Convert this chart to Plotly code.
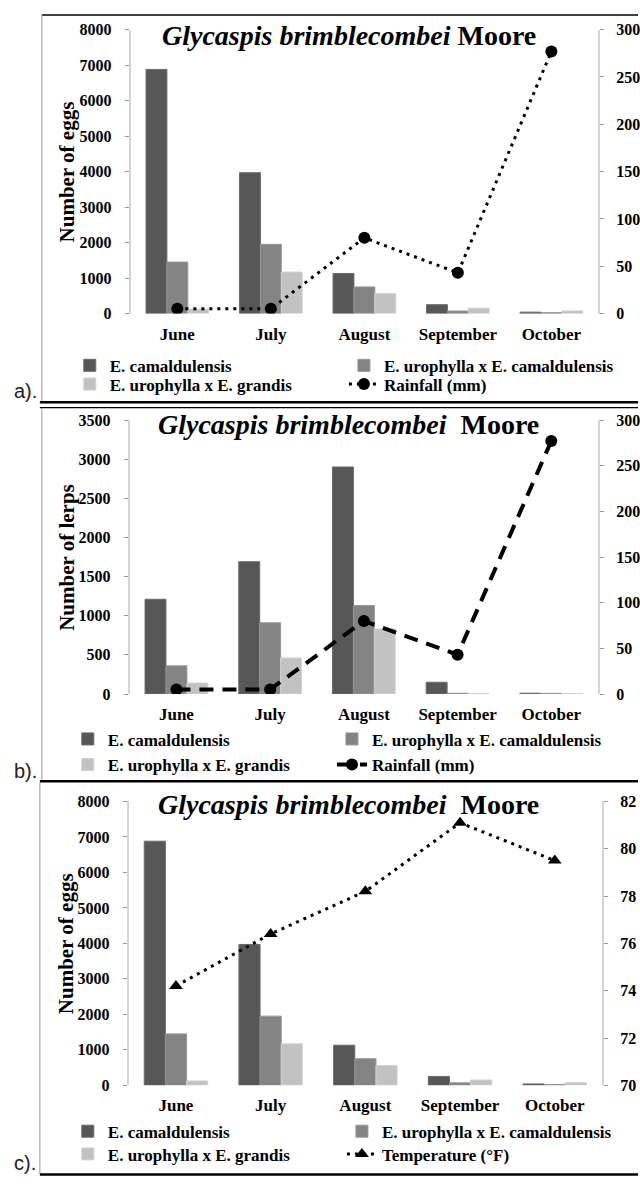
import plotly.graph_objects as go

# ---------------- data ----------------
months = ["June", "July", "August", "September", "October"]
series_names = ["E. camaldulensis", "E. urophylla x E. camaldulensis", "E. urophylla x E. grandis"]

eggs_cam = [6880, 3970, 1130, 250, 40]
eggs_uxc = [1450, 1950, 750, 70, 25]
eggs_uxg = [125, 1170, 560, 150, 75]

lerps_cam = [1210, 1690, 2900, 150, 10]
lerps_uxc = [360, 910, 1130, 10, 8]
lerps_uxg = [140, 460, 830, 8, 6]

rainfall = [5, 5, 80, 43, 277]
temperature = [74.2, 76.4, 78.2, 81.1, 79.5]

left_ticks_eggs = [0, 1000, 2000, 3000, 4000, 5000, 6000, 7000, 8000]
left_ticks_lerps = [0, 500, 1000, 1500, 2000, 2500, 3000, 3500]
right_ticks_rain = [0, 50, 100, 150, 200, 250, 300]
right_ticks_temp = [70, 72, 74, 76, 78, 80, 82]

# ---------------- style ----------------
W, H = 640, 1186
bar_colors = ["#575757", "#848484", "#c2c2c2"]
bar_edges = ["#6a6a6a", "#959595", "#d2d2d2"]
SERIF = "Liberation Serif"
AX_GRAY = "#d4d4d4"


def px(x):
    return x / W


def py(y):
    return 1 - y / H


panels = [
    dict(x0=131, x1=600, y0=22, y1=310, left=(eggs_cam, eggs_uxc, eggs_uxg),
         lrange=[0, 8000], lticks=left_ticks_eggs, rvals=rainfall, rrange=[0, 300],
         rticks=right_ticks_rain, rname="Rainfall (mm)", dash="3px,5px", lw=3,
         symbol="circle", ytitle="Number of eggs",
         title="<i>Glycaspis brimblecombei</i> Moore", ty=28,
         leg_rows=(363, 382), leg_cols=(70, 345), tag="a).", tagy=389),
    dict(x0=130, x1=600, y0=418, y1=696, left=(lerps_cam, lerps_uxc, lerps_uxg),
         lrange=[0, 3500], lticks=left_ticks_lerps, rvals=rainfall, rrange=[0, 300],
         rticks=right_ticks_rain, rname="Rainfall (mm)", dash="14px,9px", lw=4,
         symbol="circle", ytitle="Number of lerps",
         title="<i>Glycaspis brimblecombei</i>  Moore", ty=423,
         leg_rows=(742, 768), leg_cols=(68, 333), tag="b).", tagy=774),
    dict(x0=129, x1=604, y0=805, y1=1093, left=(eggs_cam, eggs_uxc, eggs_uxg),
         lrange=[0, 8000], lticks=left_ticks_eggs, rvals=temperature, rrange=[70, 82],
         rticks=right_ticks_temp, rname="Temperature (°F)", dash="3px,5px", lw=3,
         symbol="triangle-up", ytitle="Number of eggs",
         title="<i>Glycaspis brimblecombei</i>  Moore", ty=808,
         leg_rows=(1140, 1163), leg_cols=(68, 343), tag="c).", tagy=1172),
]

fig = go.Figure()
layout = dict(
    width=W, height=H, margin=dict(l=0, r=0, t=0, b=0),
    paper_bgcolor="white", plot_bgcolor="white",
    barmode="group", bargap=0.33, bargroupgap=0.0,
    font=dict(family=SERIF, color="black"),
)
annotations = []
shapes = []
leg_idx = 0
LEG_FONT = dict(family=SERIF, size=17, color="black", weight="bold")

for i, p in enumerate(panels):
    n = i + 1
    xa = "x" if n == 1 else f"x{n}"
    yl = 2 * n - 1
    yr = 2 * n
    yla = "y" if yl == 1 else f"y{yl}"
    yra = f"y{yr}"

    legend_slots = [(p["leg_cols"][0], p["leg_rows"][0]), (p["leg_cols"][1], p["leg_rows"][0]),
                    (p["leg_cols"][0], p["leg_rows"][1]), (p["leg_cols"][1], p["leg_rows"][1])]

    for k in range(3):
        leg_idx += 1
        lname = "legend" if leg_idx == 1 else f"legend{leg_idx}"
        fig.add_trace(go.Bar(
            x=months, y=p["left"][k], name=series_names[k], xaxis=xa, yaxis=yla,
            marker=dict(color=bar_colors[k], line=dict(color=bar_edges[k], width=1)),
            legend=lname, showlegend=True, offsetgroup=str(k)))
        lx, ly = legend_slots[k]
        layout[lname] = dict(x=px(lx), y=py(ly), xanchor="left", yanchor="middle",
                             bgcolor="rgba(0,0,0,0)", itemwidth=30, font=LEG_FONT)
    leg_idx += 1
    lname = f"legend{leg_idx}"
    fig.add_trace(go.Scatter(
        x=months, y=p["rvals"], name=p["rname"], xaxis=xa, yaxis=yra, mode="lines+markers",
        line=dict(color="black", width=p["lw"], dash=p["dash"]),
        marker=dict(symbol=p["symbol"], size=12, color="black"),
        legend=lname, showlegend=True))
    lx, ly = legend_slots[3]
    layout[lname] = dict(x=px(lx), y=py(ly), xanchor="left", yanchor="middle",
                         bgcolor="rgba(0,0,0,0)", itemwidth=30, font=LEG_FONT)

    xkey = "xaxis" if n == 1 else f"xaxis{n}"
    ylkey = "yaxis" if yl == 1 else f"yaxis{yl}"
    yrkey = f"yaxis{yr}"
    layout[xkey] = dict(domain=[px(p["x0"]), px(p["x1"])], anchor=yla,
                        showline=False, showgrid=False, zeroline=False, ticks="",
                        tickfont=dict(family=SERIF, size=17, color="black", weight="bold"),
                        ticklabelstandoff=8, fixedrange=True)
    layout[ylkey] = dict(domain=[py(p["y1"]), py(p["y0"])], anchor=xa,
                         range=p["lrange"], tickvals=p["lticks"], showgrid=False, zeroline=False,
                         showline=True, linecolor=AX_GRAY, linewidth=2,
                         ticks="outside", ticklen=4, tickcolor="#999999", tickwidth=1,
                         tickfont=dict(family=SERIF, size=16, color="black", weight="bold"),
                         ticklabelstandoff=10)
    layout[yrkey] = dict(domain=[py(p["y1"]), py(p["y0"])], anchor=xa, overlaying=yla,
                         side="right", range=p["rrange"], tickvals=p["rticks"],
                         showgrid=False, zeroline=False,
                         showline=True, linecolor=AX_GRAY, linewidth=2,
                         ticks="outside", ticklen=4, tickcolor="#999999", tickwidth=1,
                         tickfont=dict(family=SERIF, size=16, color="black", weight="bold"),
                         ticklabelstandoff=9)

    annotations.append(dict(text=p["title"], x=px(350), y=py(p["ty"]), xref="paper", yref="paper",
                            xanchor="center", yanchor="middle", showarrow=False,
                            font=dict(family=SERIF, size=28, color="black", weight="bold")))
    annotations.append(dict(text=p["ytitle"], x=px(67), y=py((p["y0"] + p["y1"]) / 2),
                            xref="paper", yref="paper", textangle=-90,
                            xanchor="center", yanchor="middle", showarrow=False,
                            font=dict(family=SERIF, size=21, color="black", weight="bold")))
    annotations.append(dict(text=p["tag"], x=px(12), y=py(p["tagy"]), xref="paper", yref="paper",
                            xanchor="left", yanchor="middle", showarrow=False,
                            font=dict(family="Liberation Sans", size=20, color="#222222")))


def hline(y, x0, x1, w, c="black"):
    shapes.append(dict(type="line", xref="paper", yref="paper", x0=px(x0), x1=px(x1),
                       y0=py(y), y1=py(y), line=dict(color=c, width=w)))


def vline(x, y0, y1, w, c="#9a9a9a"):
    shapes.append(dict(type="line", xref="paper", yref="paper", x0=px(x), x1=px(x),
                       y0=py(y0), y1=py(y1), line=dict(color=c, width=w)))


# panel frames
hline(7, 42, 640, 1.5)
vline(42, 7, 399, 1)
hline(400, 40, 640, 2.5)
hline(405.5, 40, 640, 1.2)
vline(42, 406, 784, 1)
hline(784.5, 40, 640, 2.5)
vline(40, 786, 1183, 1)
hline(1183.5, 40, 640, 2.5)

layout["annotations"] = annotations
layout["shapes"] = shapes
fig.update_layout(**layout)
fig.write_html("out.html", config={"displayModeBar": False},
               post_script="document.body.style.margin='0';document.body.style.overflow='hidden';")
